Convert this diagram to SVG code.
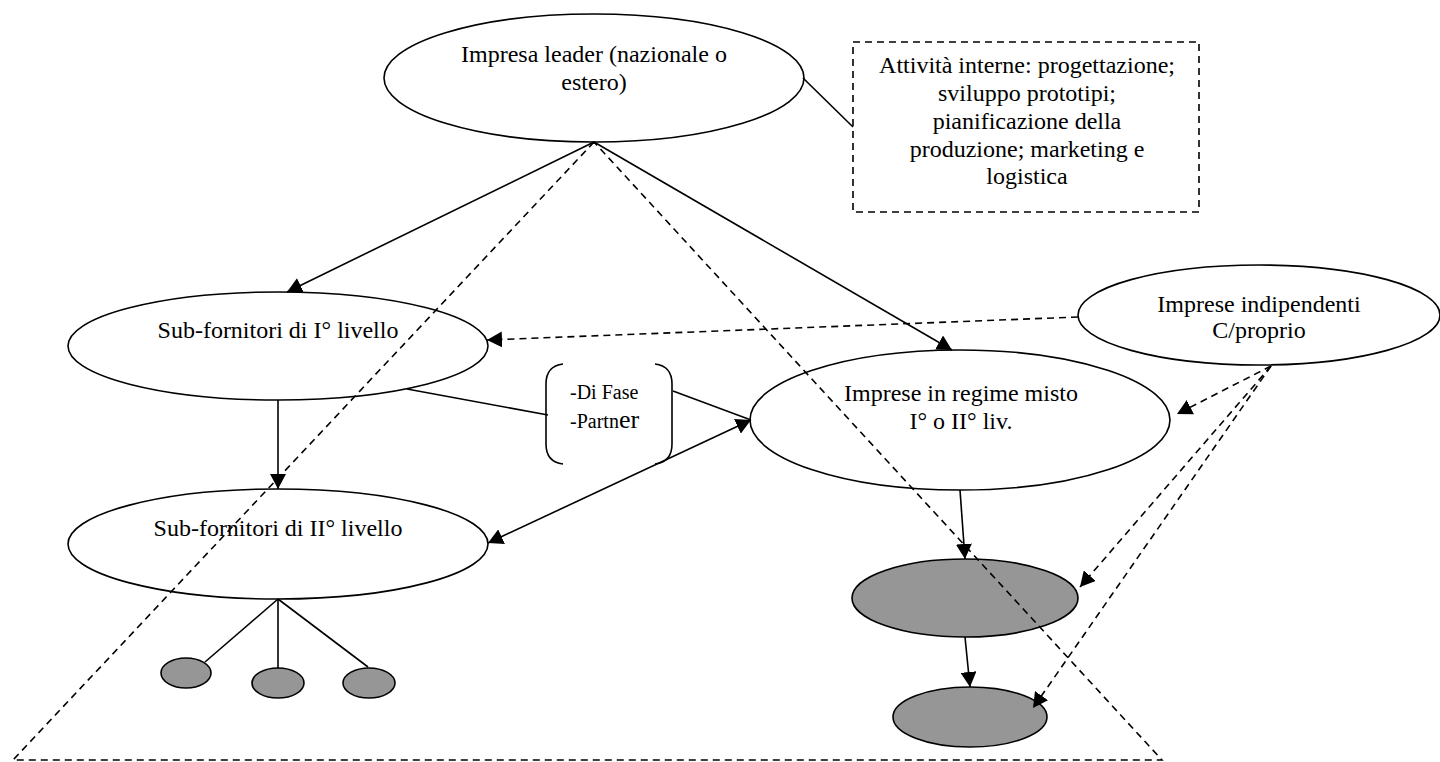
<svg xmlns="http://www.w3.org/2000/svg" width="1440" height="762" viewBox="0 0 1440 762">
<style>
.n{fill:#fff;stroke:#000;stroke-width:1.6}
.g{fill:#969696;stroke:#000;stroke-width:1.6}
.t{font-family:"Liberation Serif","Times New Roman",serif;font-size:24px;fill:#000;text-anchor:middle}
.b{font-family:"Liberation Serif","Times New Roman",serif;font-size:20px;fill:#000}
.s{stroke:#000;stroke-width:1.6;fill:none}
.d{stroke:#000;stroke-width:1.6;fill:none;stroke-dasharray:7 5}
.a{marker-end:url(#ah)}
</style>
<defs>
<marker id="ah" markerUnits="userSpaceOnUse" markerWidth="16" markerHeight="16" refX="15" refY="8" orient="auto-start-reverse" viewBox="0 0 16 16">
<path d="M0,0 L15,8 L0,16 z" fill="#000"/>
</marker>
</defs>
<rect width="1440" height="762" fill="#fff"/>

<g id="leader">
<ellipse cx="594" cy="78" rx="210" ry="64" class="n"/>
<text class="t" x="594" y="62">Impresa leader (nazionale o</text>
<text class="t" x="594" y="90">estero)</text>
</g>

<g id="attivita">
<rect x="853" y="42" width="346" height="170" class="d"/>
<text class="t" x="1027" y="73">Attività interne: progettazione;</text>
<text class="t" x="1027" y="101">sviluppo prototipi;</text>
<text class="t" x="1027" y="129">pianificazione della</text>
<text class="t" x="1027" y="157">produzione; marketing e</text>
<text class="t" x="1027" y="184">logistica</text>
</g>

<g id="sub1">
<ellipse cx="278" cy="346" rx="210" ry="54" class="n"/>
<text class="t" x="278" y="338">Sub-fornitori di I° livello</text>
</g>

<g id="sub2">
<ellipse cx="278" cy="544" rx="210" ry="55" class="n"/>
<text class="t" x="278" y="536">Sub-fornitori di II° livello</text>
</g>

<g id="bracket">
<path d="M563,364 Q546,366 546,384 L546,444 Q546,462 563,464" class="s"/>
<path d="M655,364 Q672,366 672,384 L672,444 Q672,462 655,464" class="s"/>
<text class="b" x="570" y="399">-Di Fase</text>
<text class="b" x="570" y="428">-Partn<tspan font-size="26">er</tspan></text>
</g>

<g id="misto">
<ellipse cx="960" cy="420" rx="210" ry="70" class="n"/>
<text class="t" x="961" y="401">Imprese in regime misto</text>
<text class="t" x="961" y="429">I° o II° liv.</text>
</g>

<g id="indipendenti">
<ellipse cx="1259" cy="315" rx="181" ry="50" class="n"/>
<text class="t" x="1259" y="312">Imprese indipendenti</text>
<text class="t" x="1259" y="338">C/proprio</text>
</g>

<g id="gray1"><ellipse cx="965" cy="598" rx="113" ry="39" class="g"/></g>
<g id="gray2"><ellipse cx="970" cy="717" rx="77" ry="30" class="g"/></g>
<g id="small1"><ellipse cx="186" cy="673" rx="25" ry="15" class="g"/></g>
<g id="small2"><ellipse cx="278" cy="683" rx="26" ry="15" class="g"/></g>
<g id="small3"><ellipse cx="369" cy="683" rx="26" ry="15" class="g"/></g>

<g id="connectors">
<polygon points="594,142 13,760 1162,760" class="d" stroke-dasharray="6 4"/>
<line x1="803" y1="78" x2="853" y2="127" class="s"/>
<line x1="594" y1="142" x2="287" y2="292" class="s a"/>
<line x1="594" y1="142" x2="952" y2="350" class="s a"/>
<line x1="1078" y1="317" x2="487" y2="340" class="d a"/>
<line x1="278" y1="400" x2="278" y2="489" class="s a"/>
<line x1="407" y1="389" x2="548" y2="415" class="s"/>
<line x1="673" y1="391" x2="751" y2="420" class="s"/>
<line x1="488" y1="543" x2="751" y2="420" class="s a" marker-start="url(#ah)"/>
<line x1="960" y1="490" x2="965" y2="559" class="s a"/>
<line x1="965" y1="637" x2="970" y2="687" class="s a"/>
<line x1="1271" y1="366" x2="1177" y2="414" class="d a"/>
<line x1="1271" y1="366" x2="1080" y2="587" class="d a"/>
<line x1="1271" y1="366" x2="1033" y2="708" class="d a"/>
<line x1="278" y1="599" x2="205" y2="662" class="s"/>
<line x1="278" y1="599" x2="278" y2="668" class="s"/>
<line x1="278" y1="599" x2="368" y2="667" class="s"/>
</g>
</svg>
